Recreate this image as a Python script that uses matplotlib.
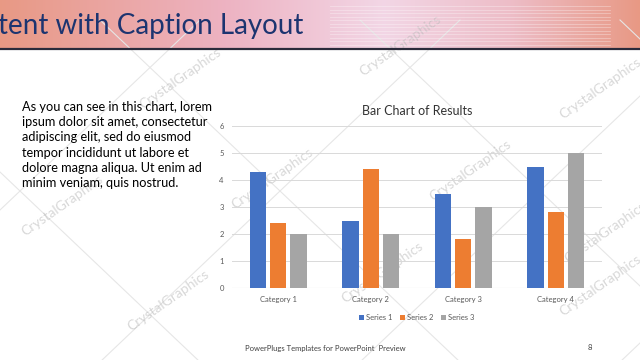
import numpy as np
import matplotlib.pyplot as plt

categories = ["Category 1", "Category 2", "Category 3", "Category 4"]
series_names = ["Series 1", "Series 2", "Series 3"]
series1 = [4.3, 2.5, 3.5, 4.5]
series2 = [2.4, 4.4, 1.8, 2.8]
series3 = [2.0, 2.0, 3.0, 5.0]
colors = ["#4472c4", "#ed7d31", "#a5a5a5"]
yticks = [0, 1, 2, 3, 4, 5, 6]

caption = ("As you can see in this chart, lorem\n"
           "ipsum dolor sit amet, consectetur\n"
           "adipiscing elit, sed do eiusmod\n"
           "tempor incididunt ut labore et\n"
           "dolore magna aliqua. Ut enim ad\n"
           "minim veniam, quis nostrud.")

plt.rcParams['font.family'] = ['Lato', 'DejaVu Sans']

W, H = 640, 360
fig = plt.figure(figsize=(6.4, 3.6), dpi=100)

# background layer in pixel coords (y down)
bg = fig.add_axes([0, 0, 1, 1])
bg.set_xlim(0, W)
bg.set_ylim(H, 0)
bg.axis('off')

# header banner gradient
xs = np.linspace(0, 1, 300)
r = np.interp(xs, [0, 0.35, 0.6, 0.8, 1], [0.91, 0.93, 0.95, 0.93, 0.91])
g = np.interp(xs, [0, 0.35, 0.6, 0.8, 1], [0.60, 0.70, 0.84, 0.74, 0.60])
b = np.interp(xs, [0, 0.35, 0.6, 0.8, 1], [0.52, 0.76, 0.90, 0.78, 0.52])
grad = np.dstack([r, g, b])[0][None, :, :].repeat(2, axis=0)
bg.imshow(grad, extent=[0, W, 48, 0], aspect='auto', zorder=0)
for yy in np.arange(6, 46, 3.5):
    bg.plot([330, 610], [yy, yy], color='white', lw=0.6, alpha=0.35, zorder=1)
bg.plot([0, W], [48.5, 48.5], color='#2b2b3b', lw=1.6, zorder=2)
bg.text(-2, 26, "tent with Caption Layout", fontsize=20, color='#1c3470',
        va='center', ha='left', zorder=3)

# watermark lines
for x0 in [-200, 60, 320, 580]:
    bg.plot([x0, x0 + 400], [400, 20], color='#e6e6e6', lw=0.8, zorder=0.5)
    bg.plot([x0 + 40, x0 + 440], [20, 400], color='#e6e6e6', lw=0.8, zorder=0.5)
marks = [(180, 78), (400, 45), (600, 88), (62, 205), (272, 178),
         (382, 272), (168, 300), (605, 232), (600, 285), (470, 170)]
for mx, my in marks:
    bg.text(mx, my, "CrystalGraphics", fontsize=10, color='#b8b8b8', alpha=0.55,
            rotation=35, ha='center', va='center', zorder=0.6)

bg.text(22, 101, caption, fontsize=9.2, color='black', va='top', ha='left',
        linespacing=1.32, zorder=3)
bg.text(245, 348, "PowerPlugs Templates for PowerPoint  Preview", fontsize=5.5,
        color='#404040', va='center', ha='left')
bg.text(588, 348, "8", fontsize=5.5, color='#404040', va='center', ha='left')

# chart
ax = fig.add_axes([232 / W, 1 - 288 / H, 370 / W, 162 / H])
ax.patch.set_alpha(0)
x = np.arange(len(categories))
bw = 0.175
off = 0.218
for i, (vals, name) in enumerate(zip([series1, series2, series3], series_names)):
    ax.bar(x + (i - 1) * off, vals, bw, color=colors[i], label=name, zorder=3)
ax.set_xlim(-0.5, len(categories) - 0.5)
ax.set_ylim(0, 6)
ax.set_yticks(yticks)
ax.set_xticks(x)
ax.set_xticklabels(categories)
ax.tick_params(length=0, labelsize=5.5, labelcolor='#595959', pad=6)
ax.grid(axis='y', color='#d9d9d9', lw=0.7, zorder=0)
for s in ax.spines.values():
    s.set_visible(False)
ax.axhline(0, color='#d9d9d9', lw=0.8, zorder=1)
ax.set_title("Bar Chart of Results", fontsize=9, color='#333333', pad=8)
ax.legend(loc='upper center', bbox_to_anchor=(0.5, -0.12), ncol=3, frameon=False,
          fontsize=5.5, handlelength=0.6, handleheight=0.6, columnspacing=1.0,
          handletextpad=0.3, labelcolor='#595959')

fig.savefig("out.png", dpi=100)
